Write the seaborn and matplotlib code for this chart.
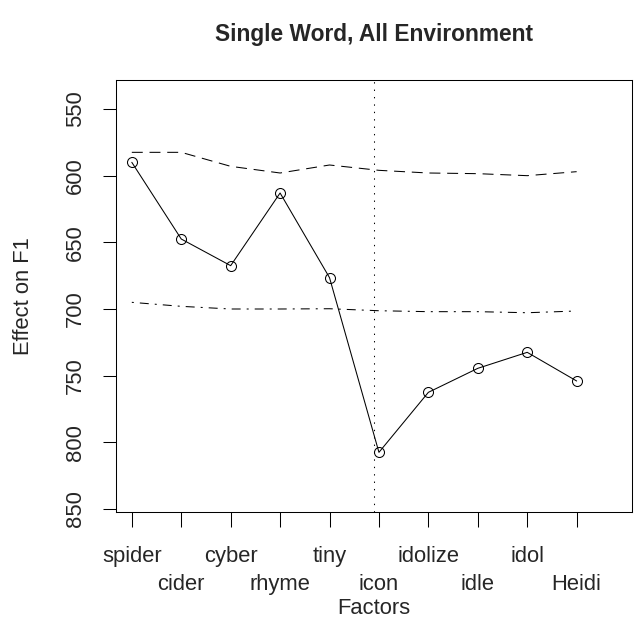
import matplotlib
matplotlib.use("Agg")
import pandas as pd
import seaborn as sns
import matplotlib.pyplot as plt

# values
words = ["spider", "cider", "cyber", "rhyme", "tiny",
         "icon", "idolize", "idle", "idol", "Heidi"]
positions = [1, 2, 3, 4, 5, 6, 7, 8, 9, 10]
effect = [590, 647.5, 667.5, 613, 676.5, 807.5, 762.5, 744.5, 732.5, 754]
upper = [582.5, 582.5, 593, 598, 592, 596, 598, 598.5, 600, 597]
lower = [695, 698, 700, 700, 699.8, 701.3, 702, 702, 702.8, 701.5]
y_ticks = [550, 600, 650, 700, 750, 800, 850]
split_at = 5.9

df = pd.DataFrame({"pos": positions, "effect": effect,
                   "upper": upper, "lower": lower})

sns.set_style("white")
plt.rcParams["font.family"] = ["Liberation Sans", "DejaVu Sans"]

fig = plt.figure(figsize=(6.41, 6.18), dpi=100)
ax = fig.add_axes([116 / 641, 1 - 512 / 618, 516 / 641, 432 / 618])

lw = 0.75
sns.lineplot(data=df, x="pos", y="upper", ax=ax, color="black", lw=lw,
             dashes=False).lines[-1].set_dashes((10.5, 6.5))
sns.lineplot(data=df, x="pos", y="lower", ax=ax, color="black", lw=lw,
             dashes=False).lines[-1].set_dashes((1.9, 5.8, 8.6, 5.8))
sns.lineplot(data=df, x="pos", y="effect", ax=ax, color="black", lw=lw,
             marker="o", markersize=7.2, markerfacecolor="none",
             markeredgecolor="black", markeredgewidth=lw)
ax.axvline(split_at, color="black", lw=lw, dashes=(1.3, 5.8))

ax.set_xlim(0.68, 11.12)
ax.set_ylim(852.25, 528.25)

ax.set_yticks(y_ticks)
ax.set_yticklabels([str(v) for v in y_ticks], rotation=90, va="center",
                   fontsize=15.8)
ax.set_xticks(positions[::2], words[::2])
ax.set_xticks(positions[1::2], words[1::2], minor=True)
ax.tick_params(axis="x", which="both", direction="out", length=10.5,
               width=lw, labelsize=15.8, color="black", bottom=True)
ax.tick_params(axis="x", which="major", pad=14)
ax.tick_params(axis="x", which="minor", pad=34)
ax.tick_params(axis="y", direction="out", length=9.5, width=lw,
               color="black", left=True, pad=12)

for s in ax.spines.values():
    s.set_color("black")
    s.set_linewidth(lw)

ax.set_xlabel("Factors", fontsize=15.8)
ax.xaxis.set_label_coords(0.5, -0.2)
ax.xaxis.label.set_va("top")
ax.set_ylabel("Effect on F1", fontsize=15.8)
ax.yaxis.set_label_coords(-0.158, 0.5)
ax.set_title("Single Word, All Environment", fontsize=16.4,
             fontweight="bold", pad=28)

fig.savefig("out.png", dpi=100)
